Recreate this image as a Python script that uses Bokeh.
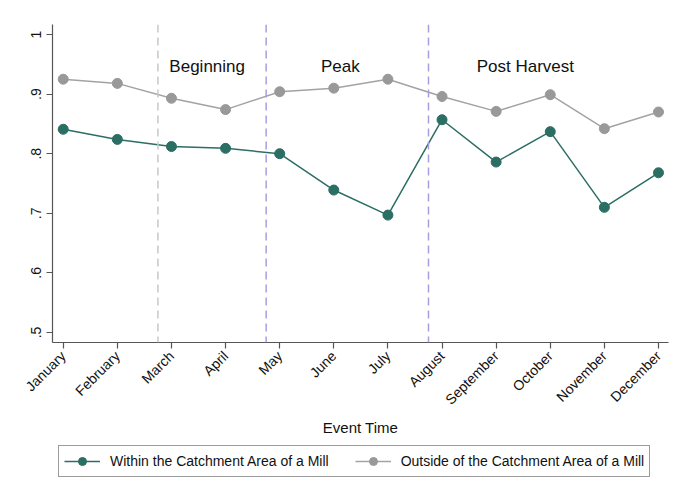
from bokeh.plotting import figure
from bokeh.models import (Span, Legend, LegendItem, FixedTicker, Range1d,
                          ColumnDataSource, Label)
from bokeh.layouts import column
from bokeh.embed import file_html
from bokeh.resources import INLINE

# Monthly shares, within vs. outside a mill's catchment area
months = ["January", "February", "March", "April", "May", "June", "July",
          "August", "September", "October", "November", "December"]
within_mill = [0.841, 0.824, 0.812, 0.809, 0.800, 0.739, 0.697,
               0.857, 0.786, 0.837, 0.710, 0.768]
outside_mill = [0.925, 0.918, 0.893, 0.874, 0.904, 0.910, 0.925,
                0.896, 0.871, 0.899, 0.842, 0.870]

y_ticks = [0.5, 0.6, 0.7, 0.8, 0.9, 1.0]
y_tick_labels = [".5", ".6", ".7", ".8", ".9", "1"]

# Season boundaries (between months) and season names
season_bounds = [1.75, 3.75, 6.75]
season_names = ["Beginning", "Peak", "Post Harvest"]

series_names = ["Within the Catchment Area of a Mill",
                "Outside of the Catchment Area of a Mill"]

FONT = "Liberation Sans"
GREEN = "#2b6e63"
GRAY_M = "#999999"
GRAY_L = "#a3a3a3"

idx = list(range(len(months)))
src = ColumnDataSource(dict(x=idx, within=within_mill, outside=outside_mill))


def draw_series(fig):
    lo = fig.line("x", "outside", source=src, line_color=GRAY_L, line_width=1.5)
    so = fig.scatter("x", "outside", source=src, size=10, fill_color=GRAY_M,
                     line_color=GRAY_M)
    lw = fig.line("x", "within", source=src, line_color=GREEN, line_width=1.5)
    sw = fig.scatter("x", "within", source=src, size=10, fill_color=GREEN,
                     line_color=GREEN)
    return (lw, sw), (lo, so)


p = figure(width=680, height=445, output_backend="svg", toolbar_location=None,
           x_range=Range1d(-0.198, 11.185), y_range=Range1d(0.4832, 1.0168),
           min_border_left=52, min_border_right=12, min_border_top=24,
           min_border_bottom=103)
p.outline_line_color = None
p.xgrid.visible = False
p.ygrid.visible = False
p.background_fill_color = "white"
p.border_fill_color = "white"

# season separators
sep_colors = ["#c8c8c8", "#a79ee0", "#a79ee0"]
for xb, c in zip(season_bounds, sep_colors):
    p.add_layout(Span(location=xb, dimension="height", line_color=c,
                      line_width=1.5, line_dash="8 5"))

# season labels
season_x = [2.66, 5.12, 8.54]
for xs, name in zip(season_x, season_names):
    p.add_layout(Label(x=xs, y=0.946, text=name, text_align="center",
                       text_baseline="middle", text_font=FONT,
                       text_font_size="17px", text_color="#111111"))

draw_series(p)

# axes
for ax in (p.xaxis[0], p.yaxis[0]):
    ax.axis_line_color = "#555555"
    ax.axis_line_width = 1.2
    ax.major_tick_line_color = "#555555"
    ax.major_tick_line_width = 1.2
    ax.major_tick_out = 6
    ax.major_tick_in = 0
    ax.minor_tick_line_color = None
    ax.major_label_text_font = FONT
    ax.major_label_text_font_size = "14px"
    ax.major_label_text_color = "#111111"

p.xaxis.ticker = FixedTicker(ticks=idx)
p.xaxis.major_label_overrides = {i: m for i, m in zip(idx, months)}
p.xaxis.major_label_orientation = 0.785398
p.xaxis.axis_label = "Event Time"
p.xaxis.axis_label_text_font = FONT
p.xaxis.axis_label_text_font_size = "15px"
p.xaxis.axis_label_text_font_style = "normal"
p.xaxis.axis_label_text_color = "#111111"
p.xaxis.axis_label_standoff = 3

p.yaxis.ticker = FixedTicker(ticks=y_ticks)
p.yaxis.major_label_overrides = {t: l for t, l in zip(y_ticks, y_tick_labels)}
p.yaxis.major_label_orientation = "vertical"

# legend strip: the series are drawn out of view, only the key shows
key = figure(width=680, height=55, output_backend="svg", toolbar_location=None,
             x_range=Range1d(100, 101), y_range=Range1d(100, 101),
             x_axis_location=None, y_axis_location=None, min_border=0)
key.outline_line_color = None
key.xgrid.visible = False
key.ygrid.visible = False
key.border_fill_color = "white"
(kw, ko) = draw_series(key)

legend = Legend(items=[
    LegendItem(label=series_names[0], renderers=list(kw)),
    LegendItem(label=series_names[1], renderers=list(ko)),
], orientation="horizontal", location=(6, 23))
legend.border_line_color = "#3a3a3a"
legend.border_line_width = 1
legend.background_fill_color = "white"
legend.padding = 5
legend.spacing = 26
legend.margin = 0
legend.label_standoff = 10
legend.glyph_width = 36
legend.glyph_height = 20
legend.label_text_font = FONT
legend.label_text_font_size = "14px"
legend.label_text_color = "#111111"
key.add_layout(legend)

page = column(p, key, spacing=0)
open("out.html", "w").write(file_html(page, INLINE))
